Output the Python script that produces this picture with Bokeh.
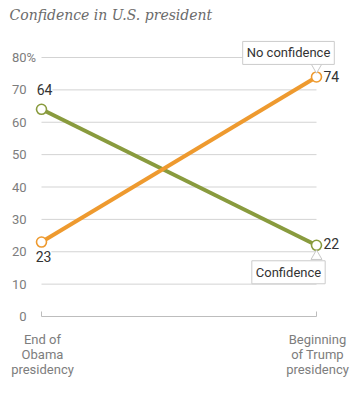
from bokeh.plotting import figure
from bokeh.models import ColumnDataSource, LabelSet, Label, Range1d
from bokeh.core.properties import value
from bokeh.embed import file_html
from bokeh.resources import INLINE

# ---- data ----
periods = ["End of\nObama\npresidency", "Beginning\nof Trump\npresidency"]
period_pos = [0, 1]
no_confidence = [23, 74]
confidence = [64, 22]
y_ticks = [0, 10, 20, 30, 40, 50, 60, 70, 80]
y_tick_labels = ["0", "10", "20", "30", "40", "50", "60", "70", "80"]
title_text = "Confidence in U.S. president"

ORANGE = "#EE9A2F"
GREEN = "#899B3E"
GRID = "#d3d3d3"
AXIS = "#bdbdbd"
TICKTXT = "#7d7d7d"
DARK = "#333333"
FONT = "Roboto"

W, H = 354, 387
XS = 275.0          # px per x unit
YS = 259.0 / 80     # px per y unit
X0PX, Y0PX = 41, 316  # canvas position of (0, 0)

x_range = Range1d(-X0PX / XS, 1 + (W - X0PX - XS) / XS)
y_range = Range1d(-(H - Y0PX) / YS, Y0PX / YS)

p = figure(width=W, height=H, output_backend="svg", toolbar_location=None,
           x_range=x_range, y_range=y_range,
           x_axis_location=None, y_axis_location=None,
           min_border=0)
p.outline_line_color = None
p.background_fill_color = "white"
p.border_fill_color = "white"
p.grid.visible = False

# gridlines
grid_src = ColumnDataSource(dict(
    x0=[period_pos[0]] * (len(y_ticks) - 1),
    x1=[period_pos[-1]] * (len(y_ticks) - 1),
    y=y_ticks[1:]))
p.segment(x0="x0", y0="y", x1="x1", y1="y", source=grid_src,
          line_color=GRID, line_width=1)

# bottom axis with end ticks
p.segment(x0=[period_pos[0]], y0=[y_ticks[0]], x1=[period_pos[-1]], y1=[y_ticks[0]],
          line_color=AXIS, line_width=1)
p.segment(x0=period_pos, y0=[y_ticks[0]] * 2, x1=period_pos,
          y1=[y_ticks[0] + 5 / YS] * 2, line_color=AXIS, line_width=1)

# y tick labels
ytl = ColumnDataSource(dict(x=[period_pos[0]] * len(y_ticks), y=y_ticks, t=y_tick_labels))
p.add_layout(LabelSet(x="x", y="y", text="t", source=ytl, x_offset=-15,
                      text_align="right", text_baseline="middle",
                      text_font=value(FONT), text_font_size="13px", text_color=TICKTXT))
p.add_layout(Label(x=period_pos[0], y=y_ticks[-1], text="%", x_offset=-15,
                   text_align="left", text_baseline="middle",
                   text_font=FONT, text_font_size="13px", text_color=TICKTXT,
                   background_fill_color="white"))

# x category labels, one row per line so each line is centred
lx, ly, lt, lo = [], [], [], []
for pos, lab in zip(period_pos, periods):
    for i, line in enumerate(lab.split("\n")):
        lx.append(pos)
        ly.append(y_ticks[0])
        lt.append(line)
        lo.append(-27 - 15 * i)
xl = ColumnDataSource(dict(x=lx, y=ly, t=lt, yo=lo))
p.add_layout(LabelSet(x="x", y="y", text="t", source=xl, x_offset=1, y_offset="yo",
                      text_align="center", text_baseline="alphabetic",
                      text_font=value(FONT), text_font_size="13px", text_color=TICKTXT))

# lines
src_c = ColumnDataSource(dict(x=period_pos, y=confidence))
src_n = ColumnDataSource(dict(x=period_pos, y=no_confidence))
p.line("x", "y", source=src_c, line_color=GREEN, line_width=4)
p.line("x", "y", source=src_n, line_color=ORANGE, line_width=4)
p.scatter("x", "y", source=src_c, size=10, fill_color="white",
          line_color=GREEN, line_width=1.6)
p.scatter("x", "y", source=src_n, size=10, fill_color="white",
          line_color=ORANGE, line_width=1.6)

# value labels
def add_val(xv, yv, xo, yo, align):
    p.add_layout(Label(x=xv, y=yv, text=str(yv), x_offset=xo, y_offset=yo,
                       text_align=align, text_baseline="middle",
                       text_font=FONT, text_font_size="14px", text_color=DARK,
                       background_fill_color="white"))

add_val(period_pos[0], confidence[0], 3, 20, "center")
add_val(period_pos[0], no_confidence[0], 2, -14, "center")
add_val(period_pos[1], no_confidence[1], 7, 0, "left")
add_val(period_pos[1], confidence[1], 7, 2, "left")

# callout pointers
p.scatter([period_pos[1]], [no_confidence[1] + 10 / YS], marker="inverted_triangle",
          size=11, fill_color="white", line_color="#c8c8c8", line_width=1)
p.scatter([period_pos[1]], [confidence[1] - 11 / YS], marker="triangle",
          size=11, fill_color="white", line_color="#c8c8c8", line_width=1)

# callout boxes
p.add_layout(Label(x=period_pos[1], y=no_confidence[1], text="No confidence",
                   x_offset=-28, y_offset=24, text_align="center", text_baseline="middle",
                   text_font=FONT, text_font_size="13px", text_color=DARK,
                   background_fill_color="white", border_line_color="#cccccc",
                   padding=4))
p.add_layout(Label(x=period_pos[1], y=confidence[1], text="Confidence",
                   x_offset=-28, y_offset=-27, text_align="center", text_baseline="middle",
                   text_font=FONT, text_font_size="13px", text_color=DARK,
                   background_fill_color="white", border_line_color="#cccccc",
                   padding=4))

# title
p.add_layout(Label(x=x_range.start, y=y_range.end, text=title_text,
                   x_offset=9, y_offset=-14, text_align="left", text_baseline="middle",
                   text_font="DejaVu Serif", text_font_style="italic",
                   text_font_size="14px", text_color="#6b6b6b"))

open("out.html", "w").write(file_html(p, INLINE))
